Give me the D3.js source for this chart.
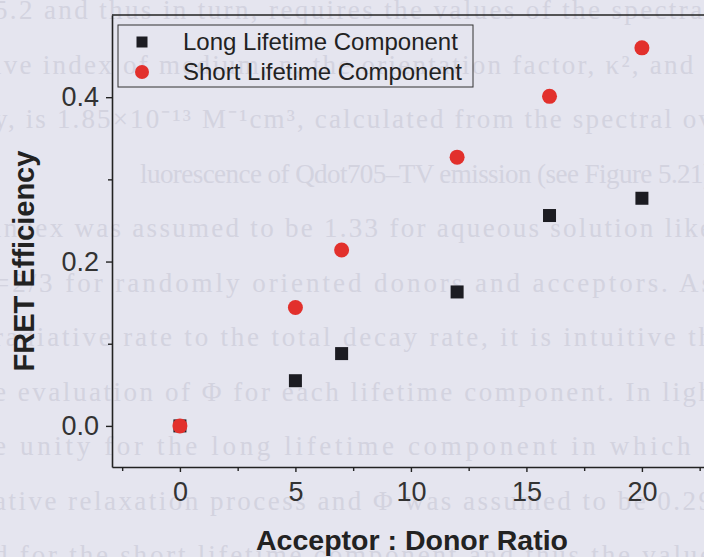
<!DOCTYPE html>
<html><head><meta charset="utf-8">
<script src="https://cdn.jsdelivr.net/npm/d3@7"></script>
<style>html,body{margin:0;padding:0;background:#e5e5ef;}svg{display:block;}</style>
</head><body>
<svg id="c" width="704" height="557"></svg>
<script>
const ratios = [0, 5, 7, 12, 16, 20];
const longLifetime = [0.0, 0.055, 0.088, 0.163, 0.256, 0.277];
const shortLifetime = [0.0, 0.144, 0.214, 0.327, 0.401, 0.460];
const xTicks = [0, 5, 10, 15, 20];
const xMinorTicks = [-2.5, 2.5, 7.5, 12.5, 17.5, 22.5];
const yTicks = [0.0, 0.2, 0.4];
const yMinorTicks = [0.1, 0.3];
const seriesNames = ["Long Lifetime Component", "Short Lifetime Component"];
// faint text of the scanned page behind the chart
const pageText = [
  "5.2 and thus in turn, requires the values of the spectral",
  "ive index of medium, n, the orientation factor, κ², and t",
  "y, is 1.85×10⁻¹³ M⁻¹cm³, calculated from the spectral ov",
  "luorescence of Qdot705–TV emission (see Figure 5.21)",
  "index was assumed to be 1.33 for aqueous solution like",
  "=2/3 for randomly oriented donors and acceptors. As",
  "radiative rate to the total decay rate, it is intuitive th",
  "e evaluation of Φ for each lifetime component. In ligh",
  "e unity for the long lifetime component in which t",
  "ative relaxation process and Φ was assumed to be 0.29",
  "d for the short lifetime component and thus the value"
];

const svg = d3.select("#c");
const sans = "'Liberation Sans', Arial, sans-serif";

const bg = svg.append("g").attr("fill", "#d3d3df").attr("font-family", "'Liberation Serif', serif").attr("font-size", 27);
pageText.forEach((t, i) => {
  const sx = i === 3 ? 140 : -6;
  bg.append("text").attr("x", sx).attr("y", 19 + i * 54.5)
    .attr("textLength", 712 - sx).attr("lengthAdjust", "spacing").text(t);
});

const x = d3.scaleLinear().domain([-2.94, 24]).range([112, 112 + 26.94 * 23.1]);
const y = d3.scaleLinear().domain([-0.05, 0.5]).range([467, 15]);

// top frame line
svg.append("line").attr("x1", x(-2.94)).attr("x2", 704).attr("y1", y(0.5)).attr("y2", y(0.5))
  .attr("stroke", "#222").attr("stroke-width", 1.6);

const xAxis = d3.axisBottom(x).tickValues(xTicks).tickFormat(d3.format("d")).tickSize(5).tickSizeOuter(0);
const gx = svg.append("g").attr("transform", `translate(0,${y(-0.05)})`).call(xAxis);
gx.select(".domain").attr("stroke", "#222").attr("stroke-width", 1.6);
gx.selectAll(".tick line").attr("stroke", "#222").attr("stroke-width", 1.4);
gx.selectAll("text").attr("font-family", sans).attr("font-size", 27).attr("fill", "#333").attr("dy", "0.95em");
const gxm = svg.append("g").attr("transform", `translate(0,${y(-0.05)})`)
  .call(d3.axisBottom(x).tickValues(xMinorTicks).tickFormat("").tickSize(4).tickSizeOuter(0));
gxm.select(".domain").remove();
gxm.selectAll(".tick line").attr("stroke", "#222").attr("stroke-width", 1.4);

const yAxis = d3.axisLeft(y).tickValues(yTicks).tickFormat(d3.format(".1f")).tickSize(6).tickSizeOuter(0);
const gy = svg.append("g").attr("transform", `translate(${x(-2.94)},0)`).call(yAxis);
gy.select(".domain").attr("stroke", "#222").attr("stroke-width", 1.6);
gy.selectAll(".tick line").attr("stroke", "#222").attr("stroke-width", 1.4);
gy.selectAll("text").attr("font-family", sans).attr("font-size", 27).attr("fill", "#333").attr("dx", "-0.15em");
const gym = svg.append("g").attr("transform", `translate(${x(-2.94)},0)`)
  .call(d3.axisLeft(y).tickValues(yMinorTicks).tickFormat("").tickSize(4).tickSizeOuter(0));
gym.select(".domain").remove();
gym.selectAll(".tick line").attr("stroke", "#222").attr("stroke-width", 1.4);

// axis titles
svg.append("text").attr("x", 412).attr("y", 550).attr("text-anchor", "middle")
  .attr("font-family", sans).attr("font-weight", "bold").attr("font-size", 28.5)
  .attr("fill", "#222").text("Acceptor : Donor Ratio");
svg.append("text").attr("transform", "translate(34,261) rotate(-90)").attr("text-anchor", "middle")
  .attr("font-family", sans).attr("font-weight", "bold").attr("font-size", 29)
  .attr("fill", "#222").text("FRET Efficiency");

// markers
const sq = 13, r = 7.5;
svg.append("g").selectAll("rect").data(ratios.map((d, i) => [d, longLifetime[i]])).join("rect")
  .attr("x", d => x(d[0]) - sq / 2).attr("y", d => y(d[1]) - sq / 2).attr("width", sq).attr("height", sq)
  .attr("fill", "#1c1c22");
svg.append("g").selectAll("circle").data(ratios.map((d, i) => [d, shortLifetime[i]])).join("circle")
  .attr("cx", d => x(d[0])).attr("cy", d => y(d[1])).attr("r", r).attr("fill", "#e2302c");

// legend
const lg = svg.append("g");
lg.append("rect").attr("x", 118).attr("y", 25).attr("width", 355).attr("height", 62)
  .attr("fill", "none").attr("stroke", "#333").attr("stroke-width", 1);
lg.append("rect").attr("x", 142 - 5.5).attr("y", 42 - 5.5).attr("width", 11).attr("height", 11).attr("fill", "#1c1c22");
lg.append("circle").attr("cx", 142).attr("cy", 72).attr("r", 7).attr("fill", "#e2302c");
lg.selectAll("text.l").data(seriesNames).join("text").attr("class", "l")
  .attr("x", 183).attr("y", (d, i) => 50 + i * 30)
  .attr("font-family", sans).attr("font-size", 24).attr("fill", "#222")
  .text(d => d);
</script>
</body></html>
